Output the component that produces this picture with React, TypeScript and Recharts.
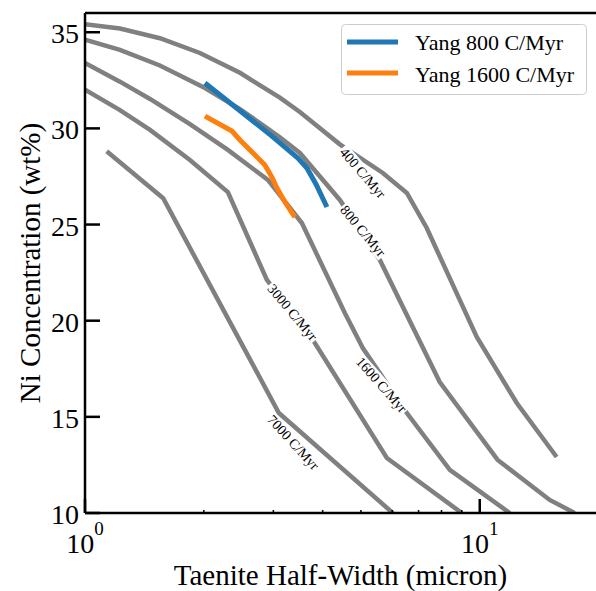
import React from 'react';
import {
  LineChart,
  Line,
  XAxis,
  YAxis,
  ReferenceLine,
  ReferenceDot,
  Legend,
} from 'recharts';

// cooling-rate model curves (x: half-width in micron, y: Ni wt%)
const c400X = [1.0, 1.226, 1.548, 1.955, 2.469, 3.116, 3.502, 4.422, 5.682, 6.536, 7.34, 9.826, 12.41, 15.66];
const c400Y = [35.41, 35.19, 34.69, 33.92, 32.89, 31.6, 30.85, 29.17, 27.68, 26.64, 24.82, 19.15, 15.72, 12.91];

const c800X = [1.0, 1.226, 1.548, 2.013, 2.469, 2.774, 3.116, 3.502, 4.422, 5.583, 7.918, 11.1, 15.04, 17.4];
const c800Y = [34.61, 34.08, 33.27, 32.1, 31.0, 30.28, 29.54, 28.72, 26.28, 23.16, 16.81, 12.76, 10.68, 10.0];

const c1600X = [1.0, 1.226, 1.461, 1.844, 2.301, 2.906, 3.543, 4.552, 5.055, 6.536, 8.397, 11.91];
const c1600Y = [33.4, 32.43, 31.53, 30.22, 28.88, 27.32, 25.08, 20.4, 18.58, 15.2, 12.24, 10.0];

const c3000X = [1.0, 1.226, 1.461, 1.844, 2.301, 2.889, 3.822, 5.816, 9.004];
const c3000Y = [32.01, 30.95, 29.92, 28.36, 26.69, 22.12, 18.84, 12.86, 10.0];

const c7000X = [1.135, 1.578, 2.541, 3.098, 6.023];
const c7000Y = [28.81, 26.37, 18.48, 15.2, 10.0];

// Yang et al. profiles
const yang800X = [2.013, 2.974, 3.461, 3.648, 3.845, 4.1];
const yang800Y = [32.36, 29.6, 28.46, 27.94, 27.11, 25.91];

const yang1600X = [2.013, 2.356, 2.469, 2.617, 2.855, 2.974, 3.063, 3.209, 3.401];
const yang1600Y = [30.64, 29.86, 29.4, 28.88, 28.1, 27.47, 26.9, 26.17, 25.39];

const seriesNames = ['Yang 800 C/Myr', 'Yang 1600 C/Myr'];

// inline contour labels
const labelText = ['400 C/Myr', '800 C/Myr', '1600 C/Myr', '3000 C/Myr', '7000 C/Myr'];
const labelX = [5.055, 5.055, 5.638, 3.352, 3.368];
const labelY = [27.68, 24.66, 16.66, 20.43, 13.67];
const labelAngle = [49, 50, 48.5, 50, 47.5];

const xTicks = [1, 2, 3, 4, 5, 6, 7, 8, 9, 10];
const yTicks = [10, 15, 20, 25, 30, 35];

const zip = (xs: number[], ys: number[]) => xs.map((x, i) => ({ x, y: ys[i] }));

const grayCurves = [
  zip(c400X, c400Y),
  zip(c800X, c800Y),
  zip(c1600X, c1600Y),
  zip(c3000X, c3000Y),
  zip(c7000X, c7000Y),
];

const FONT = '"Liberation Serif", "Times New Roman", serif';

const XTick = ({ x, y, payload }: any) => {
  const v = payload.value;
  const major = v === 1 || v === 10;
  return (
    <g>
      <line
        x1={x}
        x2={x}
        y1={y}
        y2={y - (major ? 14 : 3)}
        stroke="#000"
        strokeWidth={major ? 2.5 : 1.5}
      />
      {major && (
        <text x={x} y={y + 40} textAnchor="middle" fontSize={28} fontFamily={FONT} fill="#000">
          10
          <tspan dy={-18} fontSize={19}>
            {v === 1 ? '0' : '1'}
          </tspan>
        </text>
      )}
    </g>
  );
};

const YTick = ({ x, y, payload }: any) => (
  <g>
    <line x1={x} x2={x + 15} y1={y} y2={y} stroke="#000" strokeWidth={2.5} />
    <text x={x - 6} y={y + 11} textAnchor="end" fontSize={28} fontFamily={FONT} fill="#000">
      {payload.value}
    </text>
  </g>
);

const CurveLabel = ({ cx, cy, text, angle }: any) => {
  const w = text.length * 7.2;
  return (
    <g transform={`translate(${cx},${cy}) rotate(${angle})`}>
      <rect x={-w / 2} y={-7} width={w} height={14} fill="#fff" />
      <text textAnchor="middle" dy="0.33em" fontSize={14} fontFamily={FONT} fill="#000">
        {text}
      </text>
    </g>
  );
};

const LegendBox = ({ payload }: any) => {
  const items = (payload || [])
    .filter((p: any) => p.type !== 'none' && seriesNames.includes(p.value))
    .sort((a: any, b: any) => seriesNames.indexOf(a.value) - seriesNames.indexOf(b.value));
  return (
    <svg width={246} height={71} style={{ display: 'block' }}>
      <rect x={0.5} y={0.5} width={245} height={70} rx={4} fill="#fff" fillOpacity={0.8} stroke="#ccc" />
      {items.map((p: any, i: number) => (
        <g key={p.value}>
          <line x1={6} x2={57} y1={18 + i * 31} y2={18 + i * 31} stroke={p.color} strokeWidth={5} />
          <text x={74} y={26 + i * 31.5} fontSize={22} fontFamily={FONT} fill="#000">
            {p.value}
          </text>
        </g>
      ))}
    </svg>
  );
};

export default function App() {
  return (
    <div style={{ position: 'absolute', left: 0, top: 0, background: '#fff' }}>
      <LineChart width={596} height={591} margin={{ top: 13, right: 0, left: 0, bottom: 0 }}>
        <XAxis
          dataKey="x"
          type="number"
          scale="log"
          domain={[1, 19.7]}
          allowDataOverflow
          ticks={xTicks}
          interval={0}
          tickSize={0}
          tickMargin={0}
          tickLine={false}
          tick={<XTick />}
          height={78}
          axisLine={{ stroke: '#000', strokeWidth: 2.5 }}
          label={{
            content: ({ viewBox }: any) => (
              <text
                x={viewBox.x + viewBox.width / 2}
                y={viewBox.y + 72}
                textAnchor="middle"
                fontSize={29}
                fontFamily={FONT}
                fill="#000"
              >
                Taenite Half-Width (micron)
              </text>
            ),
          }}
        />
        <YAxis
          dataKey="y"
          type="number"
          domain={[10, 36]}
          allowDataOverflow
          ticks={yTicks}
          interval={0}
          width={85}
          tickSize={0}
          tickMargin={0}
          tickLine={false}
          tick={<YTick />}
          axisLine={{ stroke: '#000', strokeWidth: 2.5 }}
          label={{
            content: ({ viewBox }: any) => {
              const cy = viewBox.y + viewBox.height / 2;
              return (
                <text
                  x={40}
                  y={cy}
                  transform={`rotate(-90, 40, ${cy})`}
                  textAnchor="middle"
                  fontSize={29}
                  fontFamily={FONT}
                  fill="#000"
                >
                  Ni Concentration (wt%)
                </text>
              );
            },
          }}
        />
        <ReferenceLine y={36} stroke="#000" strokeWidth={2.5} ifOverflow="extendDomain" />
        {grayCurves.map((pts, i) => (
          <Line
            key={`gray-${i}`}
            data={pts}
            dataKey="y"
            type="linear"
            stroke="#808080"
            strokeWidth={4.5}
            dot={false}
            legendType="none"
            isAnimationActive={false}
          />
        ))}
        {labelText.map((t, i) => (
          <ReferenceDot
            key={t}
            x={labelX[i]}
            y={labelY[i]}
            r={0}
            shape={(p: any) => <CurveLabel cx={p.cx} cy={p.cy} text={t} angle={labelAngle[i]} />}
          />
        ))}
        <Line
          data={zip(yang800X, yang800Y)}
          dataKey="y"
          name={seriesNames[0]}
          type="linear"
          stroke="#1f77b4"
          strokeWidth={5}
          dot={false}
          isAnimationActive={false}
        />
        <Line
          data={zip(yang1600X, yang1600Y)}
          dataKey="y"
          name={seriesNames[1]}
          type="linear"
          stroke="#ff7f0e"
          strokeWidth={5}
          dot={false}
          isAnimationActive={false}
        />
        <Legend
          layout="vertical"
          align="center"
          verticalAlign="middle"
          content={<LegendBox />}
          wrapperStyle={{ left: 341, top: 24, width: 246, height: 71 }}
        />
      </LineChart>
    </div>
  );
}
